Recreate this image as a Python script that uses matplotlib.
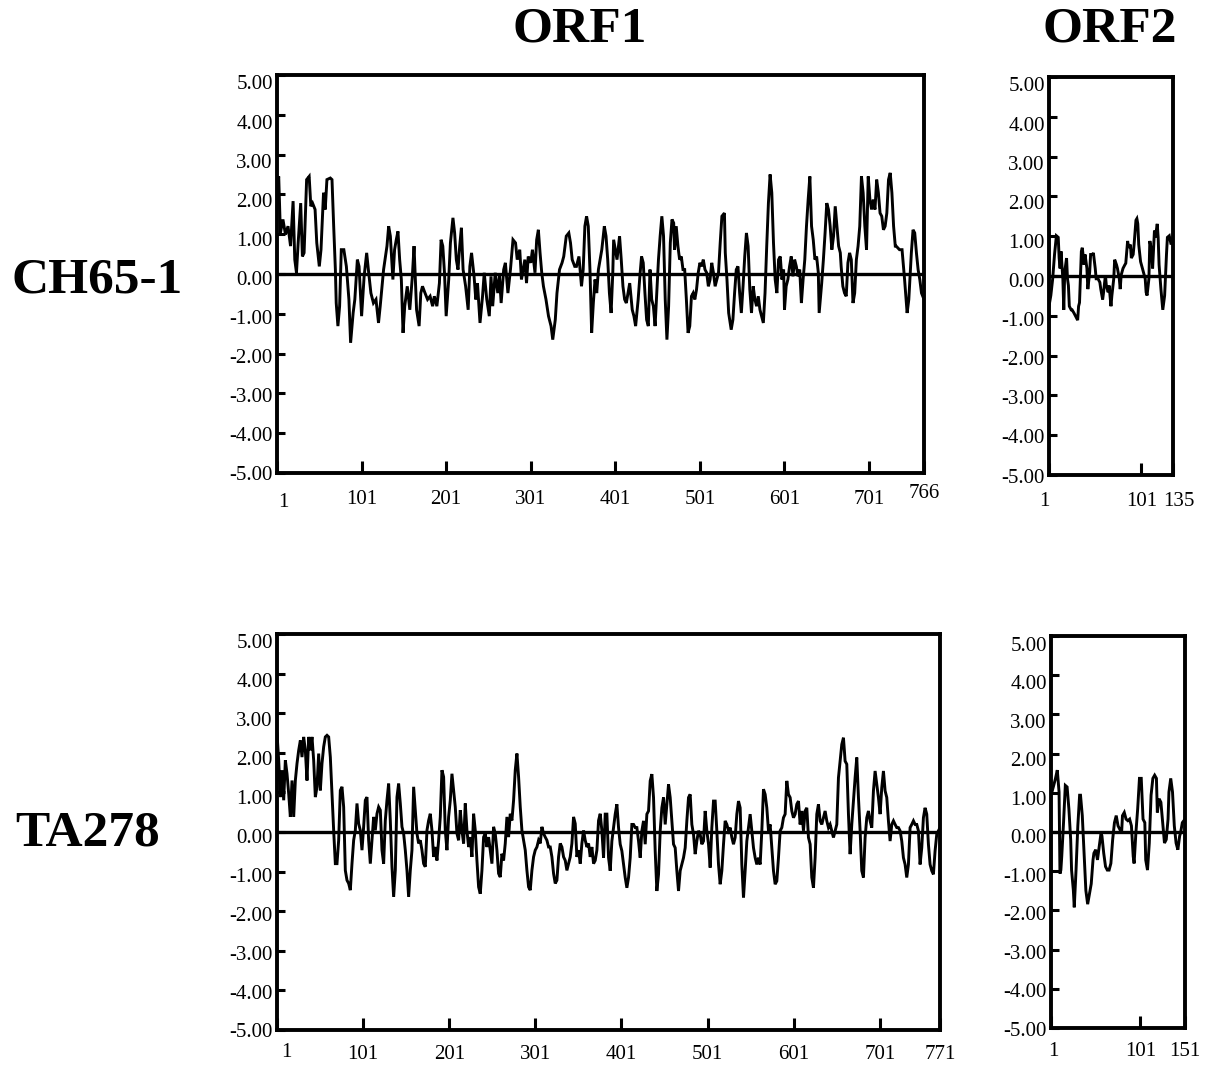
import numpy as np
import matplotlib.pyplot as plt
import matplotlib.transforms as mtransforms

plt.rcParams['font.family'] = ['Liberation Serif', 'DejaVu Serif']
plt.rcParams['axes.unicode_minus'] = False

# hydropathy profiles: (residue, score)
ch65_orf1 = [
    (1, 2.04), (3, 2.45), (5, 1.03), (8, 1.37), (11, 0.99), (14, 1.20), (17, 0.70), (20, 1.83),
    (22, 0.36), (24, 0.03), (26, 0.78), (29, 1.78), (31, 0.44), (33, 0.53), (36, 2.37), (39, 2.45),
    (41, 1.70), (43, 1.78), (46, 1.62), (48, 0.78), (51, 0.19), (53, 0.61), (56, 2.04), (58, 1.62),
    (60, 2.37), (64, 2.41), (66, 2.37), (68, 1.20), (70, 0.11), (71, -0.73), (73, -1.31), (75, -0.81),
    (77, 0.61), (80, 0.61), (83, 0.19), (86, -0.64), (88, -1.73), (91, -0.98), (93, -0.64), (96, 0.36),
    (98, 0.19), (101, -1.06), (104, -0.06), (107, 0.53), (109, 0.11), (112, -0.48), (115, -0.73),
    (118, -0.64), (121, -1.23), (123, -0.81), (127, 0.11), (131, 0.70), (133, 1.20), (135, 0.95),
    (138, -0.14), (140, 0.61), (142, 0.86), (144, 1.07), (146, 0.36), (148, -0.14), (150, -1.48),
    (152, -0.81), (155, -0.31), (158, -0.90), (161, -0.06), (163, 0.70), (166, -0.90), (169, -1.31),
    (171, -0.48), (173, -0.31), (176, -0.48), (179, -0.64), (182, -0.56), (185, -0.81), (187, -0.56),
    (190, -0.81), (193, -0.23), (195, 0.86), (197, 0.70), (199, 0.03), (201, -1.06), (204, -0.14),
    (206, 0.78), (209, 1.41), (211, 1.03), (213, 0.36), (215, 0.11), (217, 0.70), (219, 1.16),
    (221, 0.11), (224, -0.31), (227, -0.90), (229, 0.19), (231, 0.53), (234, -0.06), (236, -0.64),
    (238, -0.23), (241, -1.23), (244, -0.56), (246, 0.03), (249, -0.64), (252, -1.06), (254, -0.06),
    (256, -0.81), (259, 0.03), (262, -0.48), (264, -0.06), (266, -0.73), (269, 0.11), (271, 0.28),
    (274, -0.48), (277, 0.11), (280, 0.86), (283, 0.78), (285, 0.36), (288, 0.61), (290, -0.14),
    (292, 0.11), (294, 0.36), (296, -0.23), (298, 0.44), (301, 0.28), (303, 0.61), (306, 0.03),
    (308, 0.86), (310, 1.11), (312, 0.53), (314, 0.03), (316, -0.31), (319, -0.64), (322, -1.06),
    (325, -1.31), (327, -1.65), (330, -1.15), (332, -0.48), (335, 0.11), (338, 0.28), (340, 0.44),
    (343, 0.95), (346, 1.03), (348, 0.78), (350, 0.36), (353, 0.19), (355, 0.19), (358, 0.44),
    (361, -0.31), (363, 0.11), (365, 1.20), (367, 1.45), (369, 1.20), (371, 0.11), (373, -1.48),
    (375, -0.73), (377, -0.14), (379, -0.48), (381, 0.11), (383, 0.36),
    (385, 0.61), (388, 1.20), (390, 0.95), (392, 0.36), (394, -0.48), (396, -0.98), (398, 0.03),
    (399, 0.86), (401, 0.61), (403, 0.36), (406, 0.95), (408, 0.36), (410, -0.31), (412, -0.64),
    (414, -0.73), (416, -0.48), (418, -0.23), (421, -0.90), (423, -1.06), (425, -1.31), (428, -0.64),
    (430, -0.06), (432, 0.44), (434, 0.28), (436, -0.48), (438, -1.15), (440, -1.31), (442, 0.11),
    (444, -0.64), (446, -0.81), (448, -1.31), (450, -0.48), (452, 0.36), (454, 0.95), (456, 1.45),
    (458, 0.95), (460, -0.64), (462, -1.65), (464, -0.81), (466, 0.78), (468, 1.37), (470, 1.28),
    (471, 0.61), (473, 1.20), (475, 0.70), (477, 0.36), (479, 0.44), (481, 0.11), (483, 0.11),
    (485, -0.64), (487, -1.48), (489, -1.31), (491, -0.56), (493, -0.48), (495, -0.64), (497, -0.39),
    (499, 0.03), (501, 0.28), (503, 0.19), (505, 0.36), (507, 0.11), (509, 0.03), (511, -0.31),
    (513, -0.14), (515, 0.28), (517, 0.03), (519, -0.31), (521, -0.14), (523, 0.03), (525, 0.78),
    (527, 1.45), (530, 1.53), (531, 0.53), (533, -0.14), (535, -0.98), (538, -1.40), (540, -1.15),
    (542, -0.48), (544, 0.11), (546, 0.19), (548, -0.48), (550, -0.98), (552, -0.31), (554, 0.44),
    (556, 1.03), (558, 0.70), (560, -0.39), (562, -0.98), (564, -0.31), (566, -0.64), (568, -0.81),
    (570, -0.56), (572, -0.90), (574, -1.06), (576, -1.23), (578, -0.48), (580, 0.70), (582, 1.78),
    (584, 2.50), (586, 2.04), (588, 0.78), (590, -0.14), (592, -0.48), (594, 0.36), (596, 0.44),
    (598, -0.14), (600, 0.11), (601, -0.90), (603, -0.31), (605, -0.14), (607, 0.19), (609, 0.44),
    (611, -0.06), (613, 0.36), (615, 0.19), (617, -0.06), (619, 0.11), (621, -0.73), (623, -0.14),
    (625, 0.36), (627, 1.20), (629, 1.87), (631, 2.45), (633, 1.20), (635, 0.86), (637, 0.36),
    (639, 0.44), (641, 0.03), (642, -0.98), (645, -0.23), (647, 0.36), (649, 1.03), (651, 1.78),
    (653, 1.62), (655, 1.20), (657, 0.61), (659, 0.95), (661, 1.70), (663, 1.20), (665, 0.70),
    (667, 0.53), (668, 0.19), (670, -0.31), (672, -0.48), (674, -0.56), (676, 0.28), (678, 0.53),
    (680, 0.36), (682, -0.73), (684, -0.48), (686, 0.36), (688, 0.70), (690, 1.20), (692, 2.45),
    (694, 2.04), (696, 1.20), (698, 0.61), (700, 2.45), (702, 1.87), (704, 1.62), (706, 1.87),
    (708, 1.62), (710, 2.37), (712, 2.04), (714, 1.53), (716, 1.45), (718, 1.11), (720, 1.20),
    (722, 1.53), (724, 2.37), (726, 2.54), (728, 2.04), (730, 1.20), (732, 0.70), (733, 0.70),
    (737, 0.61), (740, 0.61), (743, -0.14), (746, -0.98), (748, -0.64), (751, 0.53), (753, 1.11),
    (755, 1.03), (757, 0.53), (759, 0.11), (761, -0.14), (763, -0.48), (766, -0.64),
]

ch65_orf2 = [
    (1, -0.76), (3, -0.49), (5, -0.07), (7, 0.54), (9, 1.01), (11, 0.97), (12, 0.45), (13, 0.19),
    (14, 0.62), (16, -0.07), (17, -0.85), (18, 0.10), (20, 0.45), (21, -0.07), (22, -0.24),
    (23, -0.76), (25, -0.85), (26, -0.85), (28, -0.93), (30, -1.02), (32, -1.11), (33, -0.76),
    (34, -0.67), (36, 0.62), (37, 0.71), (39, 0.28), (40, 0.54), (42, 0.19), (43, -0.33), (45, 0.10),
    (46, 0.54), (48, 0.54), (49, 0.58), (51, 0.19), (52, -0.07), (54, -0.07), (56, -0.16),
    (57, -0.33), (59, -0.59), (60, -0.41), (62, 0.02), (63, -0.24), (65, -0.41), (66, -0.24),
    (68, -0.76), (69, -0.49), (71, -0.07), (72, 0.41), (74, 0.28), (75, 0.19), (77, -0.07),
    (78, -0.33), (79, 0.02), (81, 0.19), (83, 0.28), (84, 0.32), (86, 0.88), (87, 0.71), (89, 0.79),
    (90, 0.45), (92, 0.54), (93, 0.79), (95, 1.40), (96, 1.44), (97, 1.31), (98, 0.79), (100, 0.36),
    (102, 0.19), (105, -0.07), (106, -0.41), (107, -0.49), (109, -0.07), (110, 0.88), (112, 0.62),
    (113, 0.19), (115, 1.14), (116, 0.97), (118, 1.31), (119, 0.97), (120, 0.28), (122, -0.33),
    (124, -0.85), (126, -0.49), (128, 0.54), (129, 0.97), (131, 1.01), (133, 0.79), (135, 0.97),
]

# TA278 ORF1 read at evenly spaced residues from 1 to 771
ta278_orf1 = [
    2.48, 1.81, 0.88, 1.56, 0.80, 1.81, 1.47, 0.97, 0.38, 1.30, 0.38, 1.30, 1.73, 2.06, 2.31, 1.89,
    2.40, 2.06, 1.30, 2.40, 2.06, 2.40, 1.81, 0.88, 1.14, 1.98, 1.05, 1.73, 2.15, 2.40, 2.44, 2.40,
    1.89, 0.97, 0.04, -0.80, -0.80, -0.21, 1.05, 1.14, 0.63, -0.97, -1.22, -1.30, -1.47, -0.80,
    -0.21, 0.04, 0.72, 0.21, 0.04, -0.46, 0.13, 0.80, 0.88, -0.21, -0.80, -0.21, 0.38, 0.04, 0.46,
    0.63, 0.55, -0.46, -0.80, 0.29, 0.80, 1.22, 0.29, -0.88, -1.64, -0.97, 0.88, 1.22, 0.72, 0.13,
    -0.04, -0.46, -0.97, -1.64, -0.97, -0.46, 1.14, 0.55, -0.04, -0.29, -0.21, -0.46, -0.80, -0.88,
    0.04, 0.29, 0.46, 0.04, -0.63, -0.38, -0.72, -0.21, 0.38, 1.56, 1.39, 0.04, -0.46, 0.38, 0.80,
    1.47, 1.05, 0.63, -0.04, -0.21, 0.55, 0.04, -0.29, 0.72, 0.04, -0.38, -0.13, -0.63, 0.46, 0.04,
    -0.72, -1.39, -1.56, -0.97, -0.13, -0.04, -0.38, -0.13, -0.46, -0.80, 0.13, -0.04, -0.46,
    -1.05, -1.14, -0.55, -0.72, -0.29, 0.38, -0.13, 0.46, 0.29, 0.80, 1.56, 1.98, 1.39, 0.63, 0.04,
    -0.21, -0.46, -0.97, -1.39, -1.47, -0.97, -0.63, -0.46, -0.38, -0.21, -0.29, 0.13, -0.04,
    -0.13, -0.21, -0.38, -0.38, -0.63, -1.05, -1.30, -1.22, -0.63, -0.29, -0.38, -0.63, -0.72,
    -0.97, -0.80, -0.63, -0.29, 0.38, 0.21, -0.63, -0.46, -0.80, -0.29, 0.04, -0.21, -0.38, -0.29,
    -0.63, -0.38, -0.80, -0.72, -0.46, 0.29, 0.46,
    0.03, -0.65, 0.45, 0.45, -0.65, -0.98, -0.23, 0.11, 0.45, 0.70, 0.11, -0.31, -0.48, -0.82,
    -1.15, -1.41, -1.15, -0.65, 0.19, 0.19, 0.11, 0.11, -0.23, -0.65, 0.03, 0.28, -0.31, 0.45, 0.53,
    1.29, 1.46, 0.87, -0.48, -1.49, -1.07, 0.03, 0.61, 0.87, 0.19, 0.70, 1.20, 0.87, 0.28, -0.31,
    -0.40, -0.98, -1.49, -0.98, -0.82, -0.65, -0.40, 0.28, 0.87, 0.95, 0.19, -0.06, -0.56, -0.23,
    0.03, -0.06, -0.31, -0.23, 0.53, 0.03, -0.31, -0.90, 0.11, 0.78, 0.78, 0.03, -0.82, -1.32,
    -0.98, -0.31, 0.28, 0.19, 0.03, 0.11, -0.14, -0.31, -0.14, 0.45, 0.78, 0.61, -0.82, -1.66,
    -0.98, -0.23, 0.11, 0.45, 0.03, -0.40, -0.65, -0.82, -0.65, -0.82, 0.03, 1.08, 0.95, 0.61, 0.03,
    0.19, -0.40, -0.98, -1.32, -1.24, -0.65, 0.03, 0.11, 0.36, 0.45, 1.29, 0.95, 0.87, 0.53, 0.36,
    0.45, 0.70, 0.78, 0.19, 0.53, 0.03, 0.53, 0.61, -0.14, -0.31, -1.15, -1.41, -0.65, 0.45, 0.70,
    0.28, 0.19, 0.36, 0.53, 0.28, 0.11, 0.19, 0.03, -0.14, 0.03, 0.19, 1.37, 1.79, 2.21, 2.38, 1.79,
    1.71, 0.45, -0.56, 0.19, 0.78, 1.37, 1.88, 0.87, 0.03, -0.98, -1.15, -0.14, 0.36, 0.53, 0.28,
    0.11, 1.04, 1.54, 1.20, 0.87, 0.45, 1.12, 1.54, 1.04, 0.87, 0.28, -0.23, 0.19, 0.28, 0.19, 0.11,
    0.11, 0.03, -0.23, -0.65, -0.82, -1.15, -0.82, 0.11, 0.19, 0.28, 0.19, 0.19, 0.03, -0.82, -0.40,
    0.36, 0.61, 0.45, -0.31, -0.82, -0.98, -1.07, -0.48, -0.06, 0.03, 0.11,
]

ta278_orf2 = [
    (1, 1.02), (2, 1.02), (4, 1.19), (6, 1.37), (8, 1.58), (10, 1.02), (11, -1.06), (12, -0.97),
    (13, -0.62), (15, 0.24), (17, 1.19), (19, 1.15), (21, 0.59), (23, -0.19), (24, -0.97),
    (26, -1.49), (27, -1.92), (29, -0.97), (31, 0.16), (33, 0.94), (34, 0.94), (36, 0.42),
    (38, -0.54), (40, -1.49), (42, -1.84), (44, -1.58), (46, -1.32), (48, -0.71), (49, -0.54),
    (51, -0.45), (53, -0.71), (55, -0.36), (57, -0.02), (58, -0.10), (60, -0.54), (62, -0.88),
    (64, -0.97), (66, -0.97), (68, -0.80), (70, -0.19), (72, 0.24), (74, 0.42), (76, 0.16),
    (78, 0.07), (80, -0.02), (81, 0.42), (83, 0.50), (85, 0.33), (87, 0.29), (89, 0.33), (91, 0.16),
    (93, -0.62), (94, -0.80), (96, -0.02), (98, 0.59), (100, 1.37), (102, 1.37), (104, 0.33),
    (106, 0.24), (107, -0.71), (109, -0.97), (111, -0.28), (113, 0.94), (115, 1.37), (117, 1.45),
    (119, 1.37), (120, 0.50), (122, 0.85), (124, 0.76), (126, 0.24), (128, -0.28), (130, -0.19),
    (132, 0.33), (133, 1.02), (135, 1.37), (137, 1.02), (139, 0.16), (141, -0.28), (143, -0.45),
    (145, -0.10), (146, -0.02), (148, 0.24), (151, 0.33),
]

orf1_ticks_ch65 = [1, 101, 201, 301, 401, 501, 601, 701, 766]
orf1_ticks_ta278 = [1, 101, 201, 301, 401, 501, 601, 701, 771]
orf2_ticks_ch65 = [1, 101, 135]
orf2_ticks_ta278 = [1, 101, 151]
y_ticks = [-5, -4, -3, -2, -1, 0, 1, 2, 3, 4, 5]


def nudge(fig, label, dx, dy):
    # shift a tick label by a few pixels
    off = mtransforms.ScaledTranslation(dx / fig.dpi, -dy / fig.dpi, fig.dpi_scale_trans)
    label.set_transform(label.get_transform() + off)


def hydro_panel(fig, ax, pos, vals, xticks, xpad, xshift):
    ax.plot(pos, vals, color='black', lw=2.1, solid_joinstyle='miter')
    ax.axhline(0, color='black', lw=2.4)
    ax.set_xlim(xticks[0], xticks[-1])
    ax.set_ylim(-5, 5)
    ax.set_yticks(y_ticks)
    ax.set_yticklabels(['%.2f' % v for v in y_ticks])
    ax.set_xticks(xticks)
    ax.set_xticklabels([str(t) for t in xticks])
    ax.tick_params(axis='y', direction='in', length=6, width=2.2, labelsize=15, pad=3)
    ax.tick_params(axis='x', direction='in', length=9, width=2.2, labelsize=15, pad=xpad)
    for s in ax.spines.values():
        s.set_linewidth(2.8)
    # the scanned labels sit a little below their ticks near the top
    for v, lab in zip(y_ticks, ax.get_yticklabels()):
        nudge(fig, lab, 0, 4 + 0.7 * v)
    labs = ax.get_xticklabels()
    for i, (dx, dy) in xshift.items():
        nudge(fig, labs[i], dx, dy)


fig = plt.figure(figsize=(12.06, 10.66), dpi=100)

ax1 = fig.add_axes([0.2297, 0.5563, 0.5365, 0.3734])
p, v = zip(*ch65_orf1)
hydro_panel(fig, ax1, p, v, orf1_ticks_ch65, 12, {0: (6, 3), 8: (0, -6)})

ax2 = fig.add_axes([0.8698, 0.5544, 0.1028, 0.3734])
p, v = zip(*ch65_orf2)
hydro_panel(fig, ax2, p, v, orf2_ticks_ch65, 12, {0: (-5, 0), 2: (6, 0)})

ax3 = fig.add_axes([0.2297, 0.0338, 0.5498, 0.3715])
hydro_panel(fig, ax3, np.linspace(1, 771, len(ta278_orf1)), ta278_orf1, orf1_ticks_ta278, 11,
            {0: (9, -2)})

ax4 = fig.add_axes([0.8715, 0.0356, 0.1111, 0.3677])
p, v = zip(*ta278_orf2)
hydro_panel(fig, ax4, p, v, orf2_ticks_ta278, 10, {0: (2, 0)})

fig.text(580 / 1206, 1 - 30 / 1066, 'ORF1', fontsize=37, fontweight='bold', ha='center', va='center')
fig.text(1110 / 1206, 1 - 30 / 1066, 'ORF2', fontsize=37, fontweight='bold', ha='center', va='center')
fig.text(97 / 1206, 1 - 280 / 1066, 'CH65-1', fontsize=37, fontweight='bold', ha='center', va='center')
fig.text(88 / 1206, 1 - 833 / 1066, 'TA278', fontsize=37, fontweight='bold', ha='center', va='center')

fig.savefig('out.png', dpi=100)
